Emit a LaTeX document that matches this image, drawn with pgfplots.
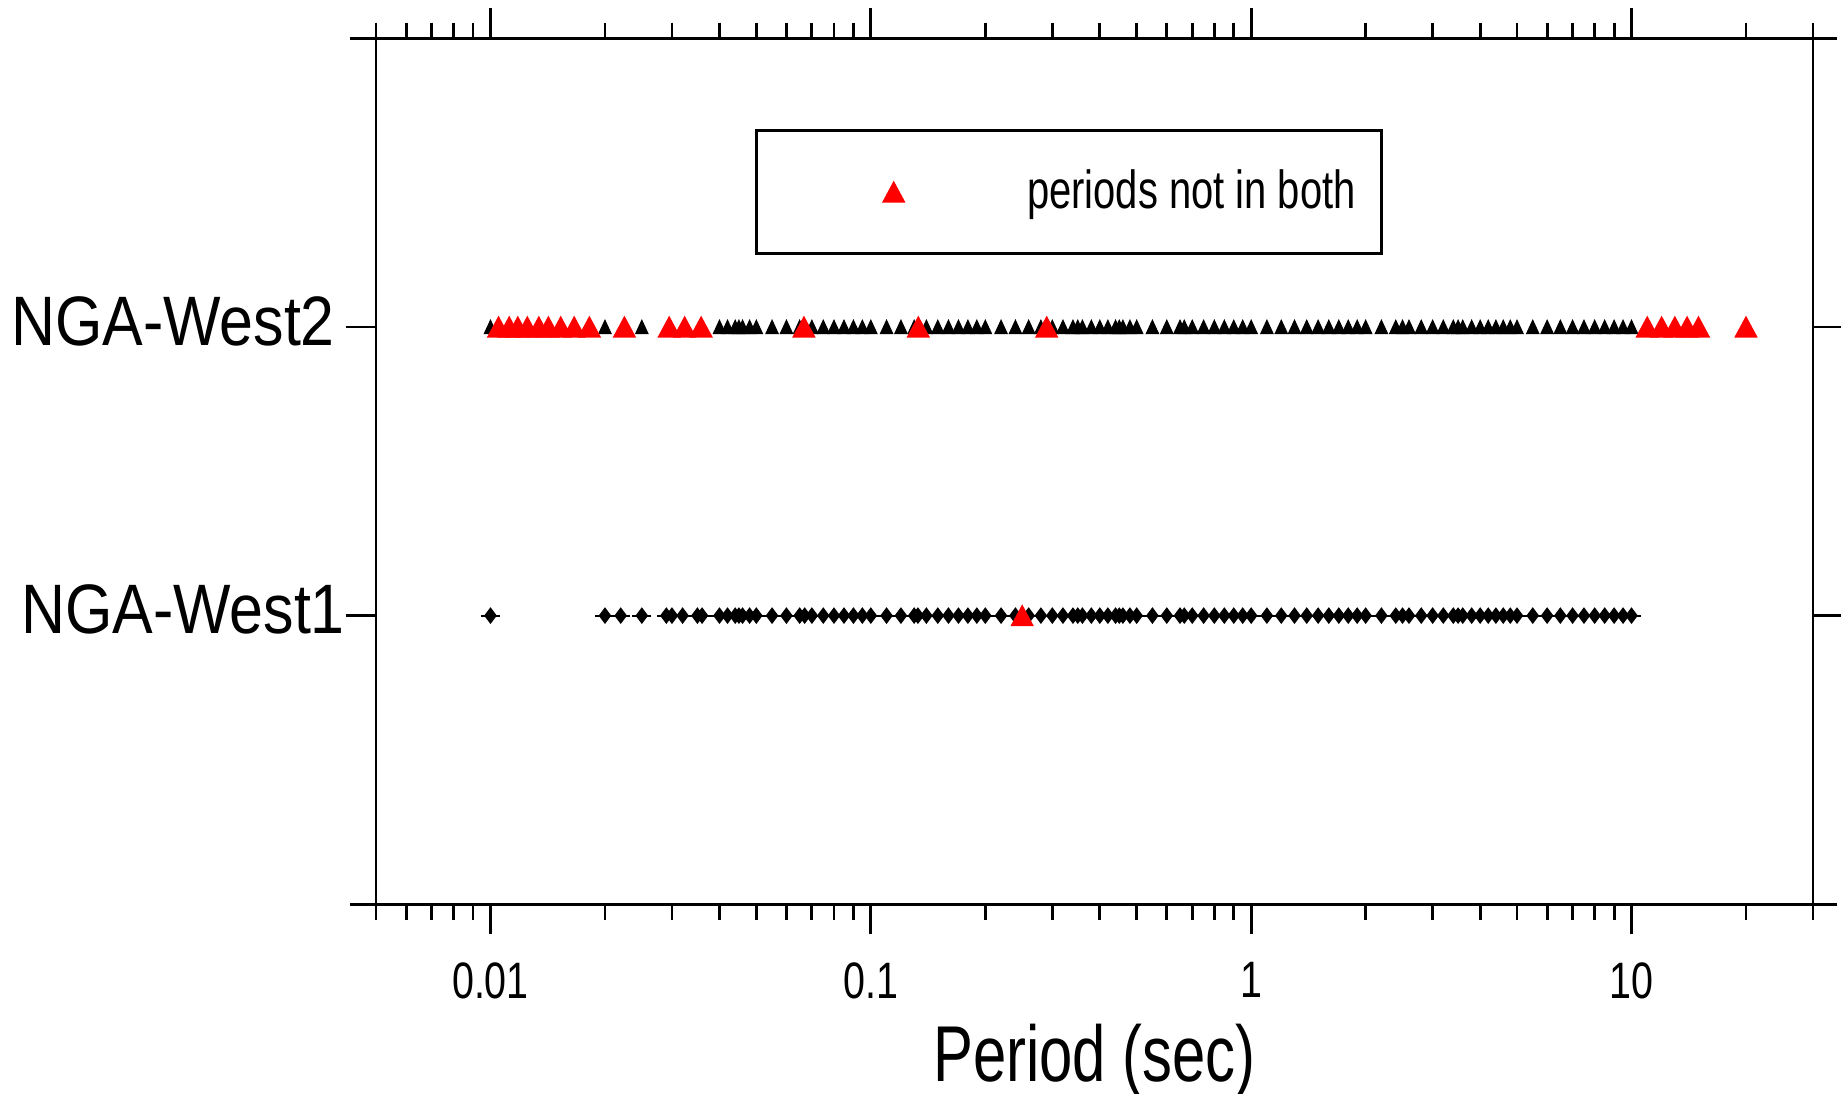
\documentclass[border=0pt]{standalone}
\usepackage{pgfplots}
\pgfplotsset{compat=1.18}
\usepackage{fontspec}
\setmainfont{Liberation Sans}
\newfontfamily\ticfont[FakeStretch=0.77]{Liberation Sans}
\newfontfamily\ylfont[FakeStretch=0.87]{Liberation Sans}
\newfontfamily\xlfont[FakeStretch=0.755]{Liberation Sans}
\newfontfamily\lgfont[FakeStretch=0.745]{Liberation Sans}

\begin{document}
\begin{tikzpicture}
\useasboundingbox (-94pt,-47.4pt) rectangle (366.25pt,226.075pt);
\begin{axis}[
  at={(0,0)}, anchor=south west,
  scale only axis, width=359.25pt, height=216.5pt,
  xmode=log, xmin=0.005, xmax=30,
  ymin=0, ymax=3,
  separate axis lines,
  axis line style={line width=0.7pt, black},
  x axis line style={shorten <=-6.5pt, shorten >=-6pt},
  tick align=outside,
  major tick length=7.5pt, minor tick length=3.9pt,
  tick style={line width=0.7pt, black},
  xtick={0.01,0.1,1,10},
  xticklabels={0.01,0.1,1,10},
  minor xtick={0.005,0.006,0.007,0.008,0.009,
    0.02,0.03,0.04,0.05,0.06,0.07,0.08,0.09,
    0.2,0.3,0.4,0.5,0.6,0.7,0.8,0.9,
    2,3,4,5,6,7,8,9,20,30},
  ytick={1,2},
  yticklabels={NGA-West1\kern-2.5pt, NGA-West2},
  xticklabel style={font=\ticfont\fontsize{12.8}{14}\selectfont, inner sep=0pt, yshift=-6.9pt},
  yticklabel style={font=\ylfont\fontsize{17.5}{20}\selectfont, inner sep=0pt, xshift=-2.6pt, yshift=1.5pt},
  xlabel={Period (sec)},
  xlabel style={at={(axis description cs:0.5,0)}, anchor=north, inner sep=0pt, yshift=-29.8pt,
    font=\xlfont\fontsize{19.8}{22}\selectfont},
  legend style={at={(0.2637,0.8953)}, anchor=north west, draw=black, line width=0.7pt,
    inner xsep=4.4pt, inner ysep=7.8pt, font=\lgfont\fontsize{13.4}{15}\selectfont},
  legend cell align=left,
  legend image code/.code={%
    \path (0pt,0pt) (60.6pt,0pt);
    \draw[mark repeat=2,mark phase=2,#1] plot coordinates {(0pt,0pt)(29.6pt,0pt)(60.6pt,0pt)};},
]
% NGA-West2 periods found in both sets
\addplot[only marks, mark=triangle*, mark size=2.17pt,
  mark options={fill=black, draw=black, line width=0.3pt, xscale=0.8, yshift=-0.55pt}, forget plot] coordinates {
  (0.01,2)(0.02,2)(0.025,2)(0.04,2)(0.042,2)(0.044,2)(0.045,2)(0.046,2)(0.048,2)(0.05,2)
  (0.055,2)(0.06,2)(0.065,2)(0.07,2)(0.075,2)(0.08,2)(0.085,2)(0.09,2)(0.095,2)
  (0.1,2)(0.11,2)(0.12,2)(0.13,2)(0.14,2)(0.15,2)(0.16,2)(0.17,2)(0.18,2)(0.19,2)
  (0.2,2)(0.22,2)(0.24,2)(0.26,2)(0.28,2)(0.3,2)(0.32,2)(0.34,2)(0.35,2)(0.36,2)(0.38,2)
  (0.4,2)(0.42,2)(0.44,2)(0.45,2)(0.46,2)(0.48,2)(0.5,2)(0.55,2)(0.6,2)(0.65,2)(0.667,2)
  (0.7,2)(0.75,2)(0.8,2)(0.85,2)(0.9,2)(0.95,2)
  (1,2)(1.1,2)(1.2,2)(1.3,2)(1.4,2)(1.5,2)(1.6,2)(1.7,2)(1.8,2)(1.9,2)
  (2,2)(2.2,2)(2.4,2)(2.5,2)(2.6,2)(2.8,2)(3,2)(3.2,2)(3.4,2)(3.5,2)(3.6,2)(3.8,2)
  (4,2)(4.2,2)(4.4,2)(4.6,2)(4.8,2)(5,2)(5.5,2)(6,2)(6.5,2)(7,2)(7.5,2)(8,2)(8.5,2)(9,2)(9.5,2)(10,2)
};
% NGA-West1 periods
\addplot[only marks, mark=-, mark size=2.4pt, mark options={draw=black, line width=0.5pt}, forget plot] coordinates {
  (0.01,1)(0.02,1)(0.022,1)(0.025,1)(0.029,1)(0.03,1)(0.032,1)(0.035,1)(0.036,1)
  (0.04,1)(0.042,1)(0.044,1)(0.045,1)(0.046,1)(0.048,1)(0.05,1)(0.055,1)(0.06,1)(0.065,1)(0.067,1)
  (0.07,1)(0.075,1)(0.08,1)(0.085,1)(0.09,1)(0.095,1)
  (0.1,1)(0.11,1)(0.12,1)(0.13,1)(0.133,1)(0.14,1)(0.15,1)(0.16,1)(0.17,1)(0.18,1)(0.19,1)
  (0.2,1)(0.22,1)(0.24,1)(0.25,1)(0.26,1)(0.28,1)(0.3,1)(0.32,1)(0.34,1)(0.35,1)(0.36,1)(0.38,1)
  (0.4,1)(0.42,1)(0.44,1)(0.45,1)(0.46,1)(0.48,1)(0.5,1)(0.55,1)(0.6,1)(0.65,1)(0.667,1)
  (0.7,1)(0.75,1)(0.8,1)(0.85,1)(0.9,1)(0.95,1)
  (1,1)(1.1,1)(1.2,1)(1.3,1)(1.4,1)(1.5,1)(1.6,1)(1.7,1)(1.8,1)(1.9,1)
  (2,1)(2.2,1)(2.4,1)(2.5,1)(2.6,1)(2.8,1)(3,1)(3.2,1)(3.4,1)(3.5,1)(3.6,1)(3.8,1)
  (4,1)(4.2,1)(4.4,1)(4.6,1)(4.8,1)(5,1)(5.5,1)(6,1)(6.5,1)(7,1)(7.5,1)(8,1)(8.5,1)(9,1)(9.5,1)(10,1)
};
\addplot[only marks, mark=diamond*, mark size=1.85pt, mark options={fill=black, draw=black, line width=0.3pt}, forget plot] coordinates {
  (0.01,1)(0.02,1)(0.022,1)(0.025,1)(0.029,1)(0.03,1)(0.032,1)(0.035,1)(0.036,1)
  (0.04,1)(0.042,1)(0.044,1)(0.045,1)(0.046,1)(0.048,1)(0.05,1)(0.055,1)(0.06,1)(0.065,1)(0.067,1)
  (0.07,1)(0.075,1)(0.08,1)(0.085,1)(0.09,1)(0.095,1)
  (0.1,1)(0.11,1)(0.12,1)(0.13,1)(0.133,1)(0.14,1)(0.15,1)(0.16,1)(0.17,1)(0.18,1)(0.19,1)
  (0.2,1)(0.22,1)(0.24,1)(0.25,1)(0.26,1)(0.28,1)(0.3,1)(0.32,1)(0.34,1)(0.35,1)(0.36,1)(0.38,1)
  (0.4,1)(0.42,1)(0.44,1)(0.45,1)(0.46,1)(0.48,1)(0.5,1)(0.55,1)(0.6,1)(0.65,1)(0.667,1)
  (0.7,1)(0.75,1)(0.8,1)(0.85,1)(0.9,1)(0.95,1)
  (1,1)(1.1,1)(1.2,1)(1.3,1)(1.4,1)(1.5,1)(1.6,1)(1.7,1)(1.8,1)(1.9,1)
  (2,1)(2.2,1)(2.4,1)(2.5,1)(2.6,1)(2.8,1)(3,1)(3.2,1)(3.4,1)(3.5,1)(3.6,1)(3.8,1)
  (4,1)(4.2,1)(4.4,1)(4.6,1)(4.8,1)(5,1)(5.5,1)(6,1)(6.5,1)(7,1)(7.5,1)(8,1)(8.5,1)(9,1)(9.5,1)(10,1)
};
% periods not in both
\addplot[only marks, mark=triangle*, mark size=3.33pt,
  mark options={fill=red, draw=red, line width=0.3pt, xscale=0.93, yshift=-0.83pt}] coordinates {
  (0.0105,2)(0.0112,2)(0.0118,2)(0.0125,2)(0.0134,2)(0.0142,2)(0.0153,2)(0.0166,2)(0.0182,2)
  (0.0225,2)(0.0295,2)(0.0324,2)(0.0358,2)(0.0667,2)(0.1333,2)(0.29,2)
  (11,2)(12,2)(13,2)(14,2)(15,2)(20,2)
  (0.25,1)
};
\addlegendentry{periods not in both}
\end{axis}
\end{tikzpicture}
\end{document}
